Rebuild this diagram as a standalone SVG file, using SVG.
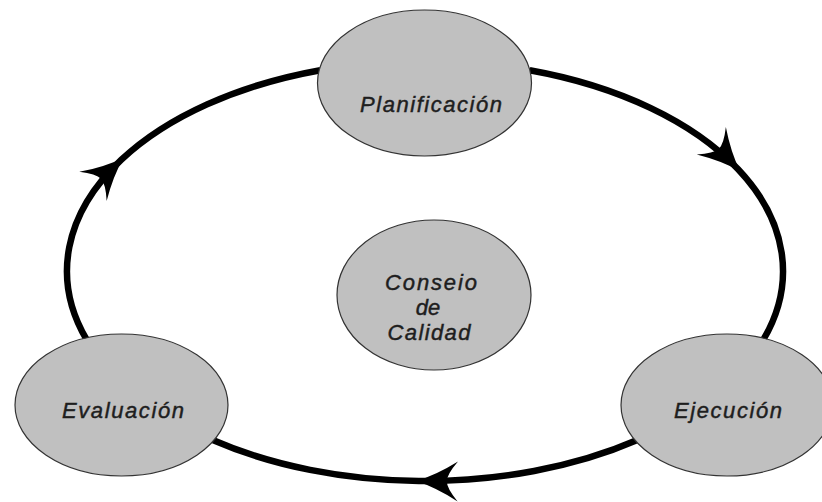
<svg xmlns="http://www.w3.org/2000/svg" width="822" height="502" viewBox="0 0 822 502">
<style>
.node{fill:#c0c0c0;stroke:#333;stroke-width:1.2}
.lbl{font-family:"Liberation Sans",Arial,sans-serif;font-style:italic;font-size:22px;fill:#1e1e1e;stroke:#1e1e1e;stroke-width:0.45;text-anchor:middle}
.conn{fill:none;stroke:#000;stroke-width:6.5;marker-mid:url(#arrow)}
</style>
<defs>
<marker id="arrow" markerUnits="userSpaceOnUse" viewBox="-42 -24 48 48" markerWidth="48" markerHeight="48" refX="0" refY="0" orient="auto">
<path d="M3,0 Q-17,-6 -39,-20 Q-28,-7 -28,0 Q-28,7 -39,20 Q-17,6 3,0 Z" fill="#000"/>
</marker>
</defs>
<rect width="822" height="502" fill="#fff"/>
<g id="connectors">
<path class="conn" d="M529.7,70.2 A358,210 0 0 1 738.1,169.2 A358,210 0 0 1 763.5,339.4"/>
<path class="conn" d="M637.9,439.8 A358,210 0 0 1 418.8,481 A358,210 0 0 1 212.1,439.8"/>
<path class="conn" d="M86.5,339.4 A358,210 0 0 1 121.4,159.7 A358,210 0 0 1 320.3,70.2"/>
</g>
<g id="planificacion">
<ellipse class="node" cx="424.5" cy="83" rx="107" ry="73"/>
<text class="lbl" x="431" y="112" textLength="142" lengthAdjust="spacing">Planificación</text>
</g>
<g id="ejecucion">
<ellipse class="node" cx="727" cy="405" rx="106" ry="71"/>
<text class="lbl" x="728" y="418" textLength="108" lengthAdjust="spacing">Ejecución</text>
</g>
<g id="evaluacion">
<ellipse class="node" cx="121.5" cy="405" rx="106.5" ry="71"/>
<text class="lbl" x="123" y="418" textLength="122" lengthAdjust="spacing">Evaluación</text>
</g>
<g id="consejo">
<ellipse class="node" cx="434" cy="295" rx="97" ry="75"/>
<text class="lbl" x="431" y="290" textLength="92" lengthAdjust="spacing">Conseio</text>
<text class="lbl" x="428" y="315">de</text>
<text class="lbl" x="429" y="340" textLength="83" lengthAdjust="spacing">Calidad</text>
</g>
</svg>
